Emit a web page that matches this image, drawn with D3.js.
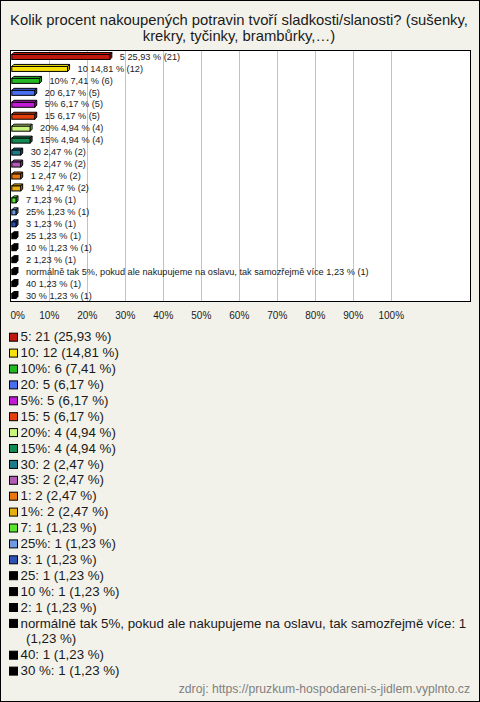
<!DOCTYPE html>
<html><head><meta charset="utf-8">
<script src="https://cdn.jsdelivr.net/npm/d3@7"></script>
<style>
html,body{margin:0;padding:0;background:#f3f2ea;}
svg{display:block;font-family:"Liberation Sans",Arial,sans-serif;}
</style></head>
<body>
<svg id="c" width="480" height="702"></svg>
<script>
const titleLines = ["Kolik procent nakoupených potravin tvoří sladkosti/slanosti? (sušenky,", "krekry, tyčinky, brambůrky,…)"];
const categories = ["5","10","10%","20","5%","15","20%","15%","30","35","1","1%","7","25%","3","25","10 %","2","normálně tak 5%, pokud ale nakupujeme na oslavu, tak samozřejmě více","40","30 %"];
const counts = [21,12,6,5,5,5,4,4,2,2,2,2,1,1,1,1,1,1,1,1,1];
const percents = [25.93,14.81,7.41,6.17,6.17,6.17,4.94,4.94,2.47,2.47,2.47,2.47,1.23,1.23,1.23,1.23,1.23,1.23,1.23,1.23,1.23];
const colors = ["#c0180c","#f7e10a","#22b822","#4a6ef2","#c21ad4","#e5400c","#c8f47c","#138a54","#1f7a8a","#b25ab5","#e8780e","#e6ae10","#5ae62f","#6d9ae0","#2c52b5","#000000","#000000","#000000","#000000","#000000","#000000"];
const tickValues = [0,10,20,30,40,50,60,70,80,90,100];
const sourceText = "zdroj: https://pruzkum-hospodareni-s-jidlem.vyplnto.cz";

const svg = d3.select("#c");
const fmt = v => d3.format(".2f")(v).replace(".", ",");

// outer frame
svg.append("rect").attr("x",0.5).attr("y",0.5).attr("width",479).attr("height",701)
  .attr("fill","#f3f2ea").attr("stroke","#000");

// title
svg.selectAll("text.title").data(titleLines).enter().append("text")
  .attr("class","title").attr("x",239).attr("y",(d,i)=>24.5+i*16)
  .attr("text-anchor","middle").attr("font-size",14.8).attr("fill","#1a1a1a").text(d=>d);

// plot area
const plot = {left:10.5, top:50.5, right:470.5, bottom:301.5};
const x = d3.scaleLinear().domain([0,100]).range([11.3, 391.3]);
const yRow = d3.scaleBand().domain(categories.map((d,i)=>i)).range([plot.top, plot.bottom]);

svg.append("rect").attr("x",plot.left).attr("y",plot.top)
  .attr("width",plot.right-plot.left).attr("height",plot.bottom-plot.top)
  .attr("fill","#fff");

svg.selectAll("line.grid").data(tickValues.slice(1)).enter().append("line")
  .attr("x1",d=>Math.round(x(d))+0.5).attr("x2",d=>Math.round(x(d))+0.5)
  .attr("y1",plot.top).attr("y2",plot.bottom)
  .attr("stroke","#c3c3c3").attr("stroke-width",1);

// bars (3D)
const dep = 2, fh = 5;
const bars = svg.selectAll("g.bar").data(percents).enter().append("g").attr("class","bar");
bars.each(function(v,i){
  const g = d3.select(this);
  const cy = yRow(i) + yRow.bandwidth()/2;
  const x0 = x(0) + 0.5, x1 = x(v);
  const yt = cy - 2;
  const c = colors[i];
  g.append("path").attr("d",`M${x0},${yt}L${x0+dep},${yt-dep}L${x1+dep},${yt-dep}L${x1},${yt}Z`)
    .attr("fill",d3.color(c).brighter(0.2)).attr("stroke","#000").attr("stroke-width",1);
  g.append("path").attr("d",`M${x1},${yt}L${x1+dep},${yt-dep}L${x1+dep},${yt+fh-dep}L${x1},${yt+fh}Z`)
    .attr("fill",d3.color(c).darker(0.5)).attr("stroke","#000").attr("stroke-width",1);
  g.append("rect").attr("x",x0).attr("y",yt).attr("width",Math.max(0,x1-x0)).attr("height",fh)
    .attr("fill",c).attr("stroke","#000").attr("stroke-width",1);
  g.append("text").attr("x",x1+10).attr("y",cy+3.2).attr("font-size",9.2).attr("fill","#1a1a1a")
    .text(`${categories[i]} ${fmt(v)} % (${counts[i]})`);
});

// plot border
svg.append("rect").attr("x",plot.left).attr("y",plot.top)
  .attr("width",plot.right-plot.left).attr("height",plot.bottom-plot.top)
  .attr("fill","none").attr("stroke","#000").attr("stroke-width",1);

// axis tick labels
svg.selectAll("text.tick").data(tickValues).enter().append("text")
  .attr("class","tick")
  .attr("x",d=>d===0 ? plot.left : x(d))
  .attr("text-anchor",d=>d===0 ? "start" : "middle")
  .attr("y",319).attr("font-size",10).attr("fill","#1a1a1a").text(d=>d+"%");

// legend
const lineY = d3.scaleLinear().domain([0,1]).range([336.7, 352.6]);
let line = 0;
const maxW = 452;
categories.forEach((cat,i)=>{
  const cy = lineY(line);
  svg.append("rect").attr("x",9.5).attr("y",cy-3.5).attr("width",8).attr("height",8)
    .attr("fill",colors[i]).attr("stroke","#000").attr("stroke-width",1);
  const label = `${cat}: ${counts[i]} (${fmt(percents[i])} %)`;
  const t = svg.append("text").attr("x",20.5).attr("y",cy+4.6).attr("font-size",13.3).attr("fill","#1a1a1a").text(label);
  if (t.node().getComputedTextLength() > maxW) {
    const words = label.split(" ");
    let cur = [], rest = [];
    for (let k=0;k<words.length;k++){
      t.text(cur.concat(words[k]).join(" "));
      if (t.node().getComputedTextLength() > maxW) { rest = words.slice(k); break; }
      cur.push(words[k]);
    }
    t.text(cur.join(" "));
    line += 1;
    svg.append("text").attr("x",26).attr("y",lineY(line)+4.6).attr("font-size",13.3).attr("fill","#1a1a1a").text(rest.join(" "));
  }
  line += 1;
});

// source
svg.append("text").attr("x",470).attr("y",693).attr("text-anchor","end")
  .attr("font-size",12.2).attr("fill","#808080").text(sourceText);
</script>
</body></html>
